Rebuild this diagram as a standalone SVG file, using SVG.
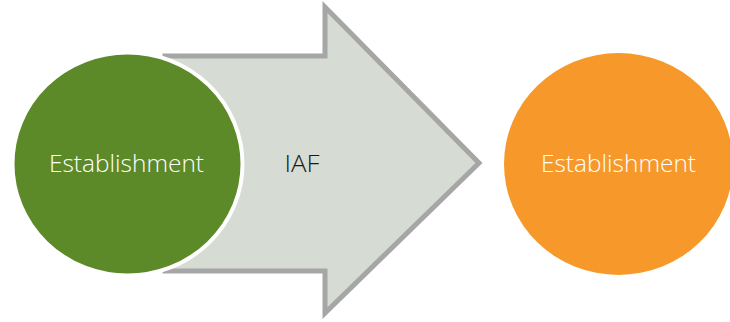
<svg xmlns="http://www.w3.org/2000/svg" width="730" height="322" viewBox="0 0 730 322">
<style>
.lbl{font-family:"Open Sans","DejaVu Sans",sans-serif;font-size:24px;font-weight:300;text-anchor:middle}
.w{fill:#ffffff}
.k{fill:#1a1a1a}
</style>
<rect width="730" height="322" fill="#ffffff"/>
<g id="connectors">
<g id="arrow">
<polygon points="165,56 325,56 325,7 479,163 325,313 325,271 165,271" fill="#d6dbd3" stroke="#a6a6a6" stroke-width="5" stroke-linejoin="miter"/>
<text class="lbl k" x="302" y="172" textLength="35" lengthAdjust="spacingAndGlyphs">IAF</text>
</g>
</g>
<g id="node-left">
<ellipse cx="127.5" cy="164" rx="115" ry="111.5" fill="#5d8a29" stroke="#ffffff" stroke-width="4"/>
<text class="lbl w" x="126.5" y="172" textLength="155" lengthAdjust="spacingAndGlyphs">Establishment</text>
</g>
<g id="node-right">
<ellipse cx="618.5" cy="164" rx="114.5" ry="111" fill="#f7992a"/>
<text class="lbl w" x="618.5" y="172" textLength="155" lengthAdjust="spacingAndGlyphs">Establishment</text>
</g>
</svg>
